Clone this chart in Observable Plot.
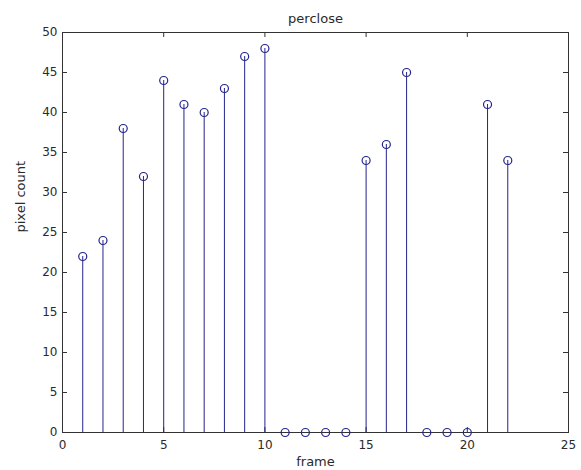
<!DOCTYPE html>
<html>
<head>
<meta charset="utf-8">
<script src="https://cdn.jsdelivr.net/npm/d3@7"></script>
<script src="https://cdn.jsdelivr.net/npm/@observablehq/plot@0.6"></script>
<style>
  html, body { margin: 0; padding: 0; background: #fff; }
  svg { display: block; }
</style>
</head>
<body>
<div id="chart"></div>
<script>
const frames = [1,2,3,4,5,6,7,8,9,10,11,12,13,14,15,16,17,18,19,20,21,22];
const pixelCount = [22,24,38,32,44,41,40,43,47,48,0,0,0,0,34,36,45,0,0,0,41,34];
const xTicks = [0,5,10,15,20,25];
const yTicks = [0,5,10,15,20,25,30,35,40,45,50];
const titleText = "perclose";
const xLabel = "frame";
const yLabel = "pixel count";

const data = frames.map((f, i) => ({frame: f, count: pixelCount[i]}));

const W = 581, H = 470;
const mL = 62, mR = 13, mT = 32, mB = 38;
const pw = W - mL - mR, ph = H - mT - mB;
const stemColor = "#24248f";
const axisColor = "#333";
const textColor = "#2a2a2a";
const tk = 5;

const chart = Plot.plot({
  width: W,
  height: H,
  marginLeft: mL,
  marginRight: mR,
  marginTop: mT,
  marginBottom: mB,
  style: {fontFamily: "'DejaVu Sans', Verdana, sans-serif", fontSize: "12px", background: "#fff", color: textColor},
  x: {domain: [0, 25]},
  y: {domain: [0, 50]},
  marks: [
    Plot.frame({stroke: axisColor, strokeWidth: 1}),
    // inward ticks bottom/top
    Plot.tickX(xTicks, {x: d => d, stroke: axisColor, insetTop: ph - tk}),
    Plot.tickX(xTicks, {x: d => d, stroke: axisColor, insetBottom: ph - tk}),
    // inward ticks left/right
    Plot.tickY(yTicks, {y: d => d, stroke: axisColor, insetRight: pw - tk}),
    Plot.tickY(yTicks, {y: d => d, stroke: axisColor, insetLeft: pw - tk}),
    Plot.axisX(xTicks, {anchor: "bottom", tickSize: 0, tickPadding: 8, label: null, fontSize: 12, fill: textColor}),
    Plot.axisY(yTicks, {anchor: "left", tickSize: 0, tickPadding: 5, label: null, fontSize: 12, fill: textColor}),
    Plot.text([xLabel], {frameAnchor: "bottom", dy: 33, text: d => d, fontSize: 13, fill: textColor}),
    Plot.text([yLabel], {frameAnchor: "left", dx: -42, rotate: -90, text: d => d, fontSize: 13, fill: textColor}),
    Plot.ruleX(data, {x: "frame", y1: 0, y2: "count", stroke: stemColor, strokeWidth: 1}),
    Plot.dot(data, {x: "frame", y: "count", r: 4, stroke: stemColor, fill: "none", strokeWidth: 1.2}),
    Plot.text([titleText], {frameAnchor: "top", dy: -19, text: d => d, fontSize: 13, fill: textColor})
  ]
});
document.getElementById("chart").appendChild(chart);
</script>
</body>
</html>
